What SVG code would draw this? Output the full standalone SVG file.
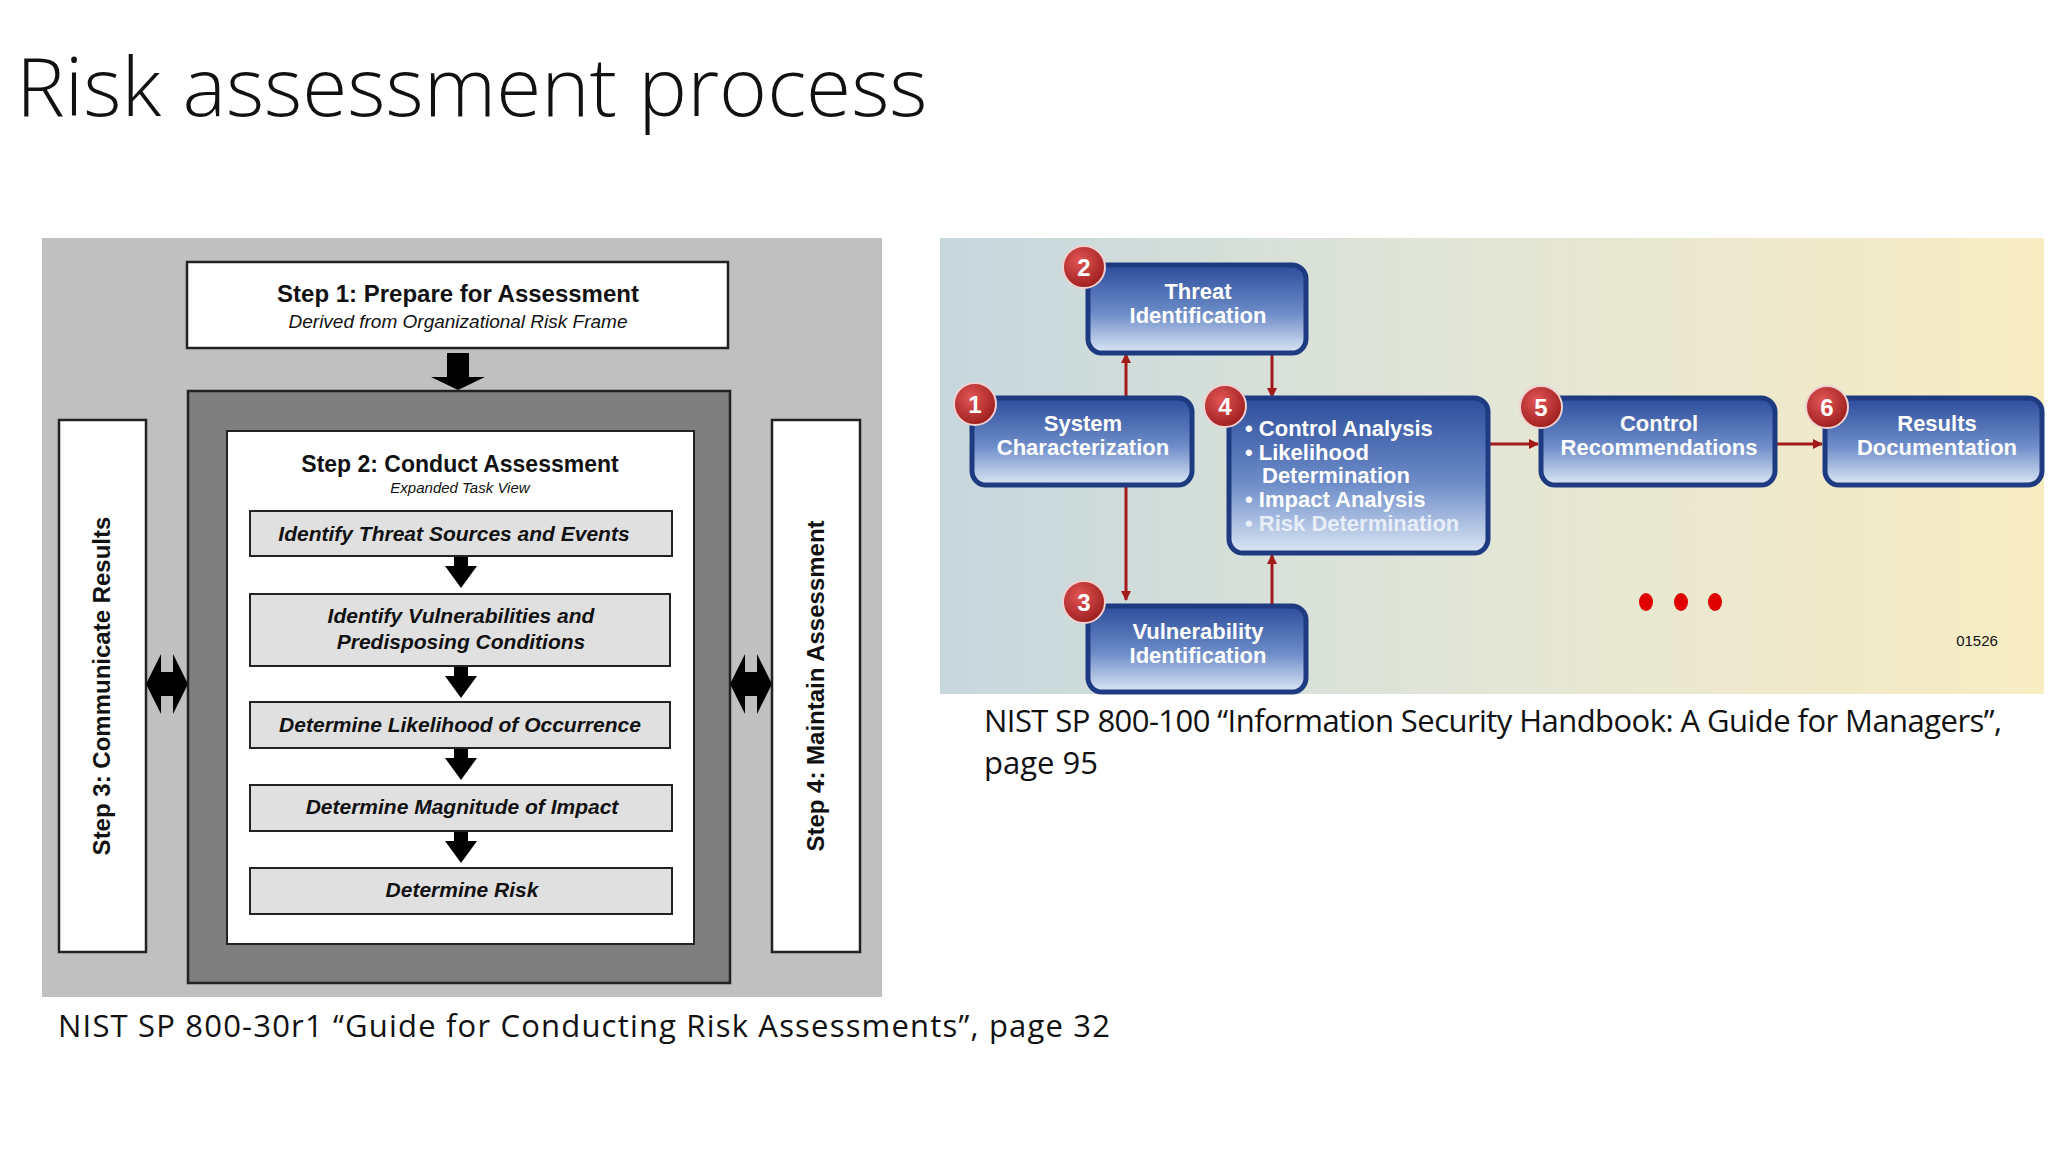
<svg xmlns="http://www.w3.org/2000/svg" width="2048" height="1152" viewBox="0 0 2048 1152">
<defs>
<style>
.t{font-family:"Liberation Sans",Arial,sans-serif;fill:#111}
.b{font-weight:bold}
.i{font-style:italic}
.cap{font-family:"Open Sans","Liberation Sans",sans-serif;fill:#111;font-size:31px}
.task{fill:#e0e0e0;stroke:#222;stroke-width:2}
.wb{fill:#fff;stroke:#222;stroke-width:2.5}
.nb{fill:url(#ng);stroke:#1e3a80;stroke-width:5}
.nt{font-family:"Liberation Sans",Arial,sans-serif;font-weight:bold;fill:#fff;font-size:22px;text-anchor:middle}
.num{fill:url(#rg);stroke:#f0d0d0;stroke-width:2}
.nn{font-family:"Liberation Sans",Arial,sans-serif;font-weight:bold;fill:#fff;font-size:24px;text-anchor:middle}
.ra{stroke:#a31a1a;stroke-width:3;fill:none;marker-end:url(#ah)}
</style>
<linearGradient id="bg" x1="0" y1="0" x2="1" y2="0"><stop offset="0" stop-color="#c6d7dd"/><stop offset="0.5" stop-color="#e3e6d6"/><stop offset="1" stop-color="#f8ecc2"/></linearGradient>
<linearGradient id="ng" x1="0" y1="0" x2="0" y2="1"><stop offset="0" stop-color="#2d4d9c"/><stop offset="0.55" stop-color="#6d8cc8"/><stop offset="1" stop-color="#dce7f5"/></linearGradient>
<radialGradient id="rg" cx="0.4" cy="0.35" r="0.7"><stop offset="0" stop-color="#e25555"/><stop offset="1" stop-color="#9a1c1c"/></radialGradient>
<marker id="ah" markerWidth="10" markerHeight="10" refX="9" refY="5" orient="auto" markerUnits="userSpaceOnUse"><path d="M0,0 L10,5 L0,10 z" fill="#a31a1a"/></marker>
</defs>
<rect width="2048" height="1152" fill="#fff"/>
<text x="16" y="116" font-family="'Open Sans','Liberation Sans',sans-serif" font-weight="300" font-size="82" fill="#111">Risk assessment process</text>

<g id="left-panel">
<rect x="42" y="238" width="840" height="759" fill="#c0c0c0"/>
</g>
<g id="step1">
<rect class="wb" x="187" y="262" width="541" height="86"/>
<text class="t b" x="458" y="302" font-size="24" text-anchor="middle">Step 1: Prepare for Assessment</text>
<text class="t i" x="458" y="328" font-size="19" text-anchor="middle">Derived from Organizational Risk Frame</text>
</g>
<g id="step2">
<rect x="188" y="391" width="542" height="592" fill="#7f7f7f" stroke="#222" stroke-width="2.5"/>
<rect x="227" y="431" width="467" height="513" fill="#fff" stroke="#222" stroke-width="2"/>
<text class="t b" x="460" y="472" font-size="23" text-anchor="middle">Step 2: Conduct Assessment</text>
<text class="t i" x="460" y="493" font-size="15" text-anchor="middle">Expanded Task View</text>
</g>
<g id="task1"><rect class="task" x="250" y="511" width="422" height="45"/><text class="t b i" x="454" y="541" font-size="21" text-anchor="middle">Identify Threat Sources and Events</text></g>
<g id="task2"><rect class="task" x="250" y="594" width="420" height="72"/><text class="t b i" x="461" y="623" font-size="21" text-anchor="middle">Identify Vulnerabilities and</text><text class="t b i" x="461" y="649" font-size="21" text-anchor="middle">Predisposing Conditions</text></g>
<g id="task3"><rect class="task" x="250" y="702" width="420" height="46"/><text class="t b i" x="460" y="732" font-size="21" text-anchor="middle">Determine Likelihood of Occurrence</text></g>
<g id="task4"><rect class="task" x="250" y="785" width="422" height="46"/><text class="t b i" x="462" y="814" font-size="21" text-anchor="middle">Determine Magnitude of Impact</text></g>
<g id="task5"><rect class="task" x="250" y="868" width="422" height="46"/><text class="t b i" x="462" y="897" font-size="21" text-anchor="middle">Determine Risk</text></g>
<g id="step3"><rect class="wb" x="59" y="420" width="87" height="532"/><text class="t b" transform="translate(110,686) rotate(-90)" x="0" y="0" font-size="24" text-anchor="middle">Step 3: Communicate Results</text></g>
<g id="step4"><rect class="wb" x="772" y="420" width="88" height="532"/><text class="t b" transform="translate(824,686) rotate(-90)" x="0" y="0" font-size="24" text-anchor="middle">Step 4: Maintain Assessment</text></g>

<g id="connectors-left" fill="#000">
<path d="M447,353 h22 v24 h16 l-27,13 l-27,-13 h16 z"/>
<path d="M454,557 h14 v9 h9 l-16,22 l-16,-22 h9 z"/>
<path d="M454,667 h14 v9 h9 l-16,22 l-16,-22 h9 z"/>
<path d="M454,749 h14 v9 h9 l-16,22 l-16,-22 h9 z"/>
<path d="M454,832 h14 v9 h9 l-16,22 l-16,-22 h9 z"/>
<path d="M146,684 l15,-30 v18 h12 v-18 l15,30 l-15,30 v-18 h-12 v18 z"/>
<path d="M730,684 l15,-30 v18 h12 v-18 l15,30 l-15,30 v-18 h-12 v18 z"/>
</g>
<text class="cap" x="58" y="1037" textLength="1052">NIST SP 800-30r1 “Guide for Conducting Risk Assessments”, page 32</text>

<g id="right-panel"><rect x="940" y="238" width="1104" height="456" fill="url(#bg)"/></g>
<g id="connectors-right">
<line class="ra" x1="1126" y1="398" x2="1126" y2="354"/>
<line class="ra" x1="1272" y1="353" x2="1272" y2="397"/>
<line class="ra" x1="1126" y1="485" x2="1126" y2="600"/>
<line class="ra" x1="1272" y1="606" x2="1272" y2="555"/>
<line class="ra" x1="1490" y1="444" x2="1538" y2="444"/>
<line class="ra" x1="1777" y1="444" x2="1822" y2="444"/>
</g>
<g id="n2"><rect class="nb" x="1088" y="265" width="218" height="88" rx="14"/><text class="nt" x="1198" y="299">Threat</text><text class="nt" x="1198" y="323">Identification</text><circle class="num" cx="1084" cy="267" r="21"/><text class="nn" x="1084" y="276">2</text></g>
<g id="n1"><rect class="nb" x="972" y="398" width="220" height="87" rx="14"/><text class="nt" x="1083" y="431">System</text><text class="nt" x="1083" y="455">Characterization</text><circle class="num" cx="975" cy="404" r="21"/><text class="nn" x="975" y="413">1</text></g>
<g id="n4"><rect class="nb" x="1229" y="398" width="259" height="155" rx="14"/>
<g font-family="'Liberation Sans',Arial,sans-serif" font-weight="bold" font-size="22" fill="#fff">
<text x="1245" y="436">• Control Analysis</text><text x="1245" y="460">• Likelihood</text><text x="1262" y="483">Determination</text><text x="1245" y="507">• Impact Analysis</text><text x="1245" y="531" fill="#e8eef8">• Risk Determination</text></g>
<circle class="num" cx="1225" cy="406" r="21"/><text class="nn" x="1225" y="415">4</text></g>
<g id="n5"><rect class="nb" x="1541" y="398" width="234" height="87" rx="14"/><text class="nt" x="1659" y="431">Control</text><text class="nt" x="1659" y="455">Recommendations</text><circle class="num" cx="1541" cy="407" r="21"/><text class="nn" x="1541" y="416">5</text></g>
<g id="n6"><rect class="nb" x="1825" y="398" width="217" height="87" rx="14"/><text class="nt" x="1937" y="431">Results</text><text class="nt" x="1937" y="455">Documentation</text><circle class="num" cx="1827" cy="407" r="21"/><text class="nn" x="1827" y="416">6</text></g>
<g id="n3"><rect class="nb" x="1088" y="606" width="218" height="86" rx="14"/><text class="nt" x="1198" y="639">Vulnerability</text><text class="nt" x="1198" y="663">Identification</text><circle class="num" cx="1084" cy="602" r="21"/><text class="nn" x="1084" y="611">3</text></g>
<g id="dots" fill="#e00000"><ellipse cx="1646" cy="602" rx="7" ry="9"/><ellipse cx="1681" cy="602" rx="7" ry="9"/><ellipse cx="1715" cy="602" rx="7" ry="9"/></g>
<text class="t" x="1977" y="646" font-size="15" text-anchor="middle">01526</text>
<text class="cap" x="984" y="732" textLength="1018">NIST SP 800-100 “Information Security Handbook: A Guide for Managers”,</text>
<text class="cap" x="984" y="774">page 95</text>
</svg>
